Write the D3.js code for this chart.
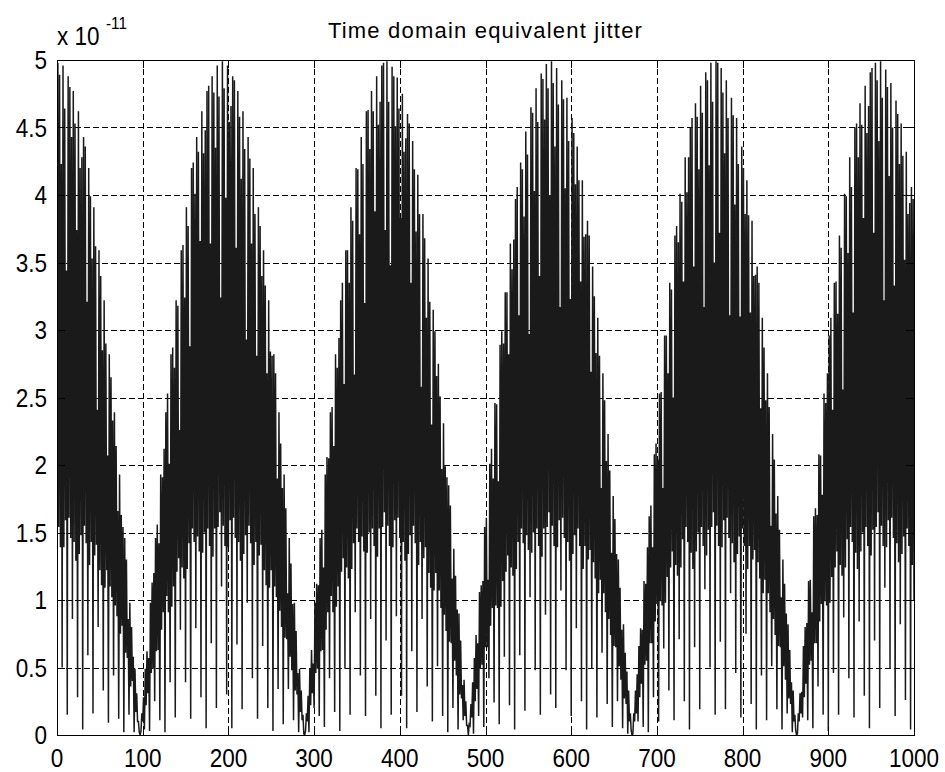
<!DOCTYPE html>
<html>
<head>
<meta charset="utf-8">
<script src="https://cdn.jsdelivr.net/npm/d3@7"></script>
<style>
html,body{margin:0;padding:0;background:#fff;}
svg{display:block;}
text{font-family:"Liberation Sans",Arial,Helvetica,sans-serif;fill:#000;}
</style>
</head>
<body>
<svg id="chart" width="945" height="772"></svg>
<script>
// ---------------- data ----------------
const title = "Time domain equivalent jitter";
const yExponent = "-11";
const xTicks = [0,100,200,300,400,500,600,700,800,900,1000];
const xTickLabels = ["0","100","200","300","400","500","600","700","800","900","1000"];
const yTicks = [0,0.5,1,1.5,2,2.5,3,3.5,4,4.5,5];
const yTickLabels = ["0","0.5","1","1.5","2","2.5","3","3.5","4","4.5","5"];
// jitter per sample n = 1..1000, in units of 1e-11 s
const jitter = [
4.98,1.54,4.89,1.39,4.23,0.50, 4.96,1.39,4.64,1.59,3.44,0.15,
4.88,1.61,4.80,1.46,4.43,0.86, 4.77,1.43,4.53,1.29,3.74,0.28,
4.62,1.34,4.20,1.48,4.28,0.04, 4.43,1.55,4.36,1.42,3.21,0.59,
4.20,1.26,3.99,1.43,3.53,0.16, 3.91,1.33,3.62,1.41,2.41,0.80,
3.59,1.22,3.40,1.11,2.85,0.33, 3.22,1.09,2.90,1.22,2.07,0.09,
2.82,1.10,2.65,1.02,2.33,0.44, 2.39,0.96,2.14,0.88,1.66,0.12,
1.93,0.75,1.63,0.81,1.54,0.02, 1.46,0.61,1.30,0.57,0.86,0.15,
0.98,0.36,0.80,0.40,0.58,0.02, 0.49,0.17,0.31,0.10,0.10,0.02,
0.00,0.03,0.16,0.10,0.28,0.04, 0.49,0.22,0.62,0.31,0.57,0.03,
0.98,0.46,1.13,0.49,1.20,0.25, 1.46,0.62,1.56,0.63,1.42,0.11,
1.93,0.78,1.91,0.91,2.12,0.02, 2.39,1.03,2.53,0.91,2.01,0.39,
2.82,0.95,2.87,1.10,2.72,0.13, 3.22,1.21,3.18,1.31,2.26,0.78,
3.59,1.24,3.63,1.16,3.24,0.39, 3.91,1.23,3.77,1.42,2.88,0.12,
4.20,1.53,4.24,1.43,4.01,0.79, 4.43,1.47,4.32,1.36,3.66,0.28,
4.62,1.35,4.31,1.50,4.48,0.05, 4.77,1.53,4.81,1.40,3.64,0.68,
4.88,1.32,4.76,1.53,4.35,0.20, 4.96,1.54,4.73,1.65,3.24,1.10,
4.99,1.55,4.79,1.40,3.98,0.30, 4.96,1.39,4.54,1.59,4.66,0.05,
4.88,1.61,4.85,1.46,3.61,0.67, 4.77,1.43,4.58,1.29,4.12,0.19,
4.62,1.34,4.34,1.48,2.93,0.98, 4.43,1.55,4.27,1.42,3.64,0.42,
4.20,1.26,3.86,1.43,2.81,0.12, 3.91,1.33,3.77,1.41,3.40,0.66,
3.59,1.22,3.33,1.11,2.68,0.20, 3.22,1.09,2.84,1.22,2.81,0.03,
2.82,1.10,2.68,1.02,1.90,0.34, 2.39,0.92,2.16,0.80,1.83,0.08,
1.93,0.72,1.68,0.71,1.05,0.34, 1.46,0.58,1.27,0.48,0.97,0.11,
0.98,0.33,0.77,0.30,0.46,0.02, 0.49,0.17,0.33,0.11,0.15,0.01,
0.00,0.03,0.16,0.10,0.29,0.02, 0.49,0.22,0.63,0.31,0.53,0.20,
0.98,0.46,1.12,0.49,1.11,0.14, 1.46,0.62,1.52,0.63,1.24,0.06,
1.93,0.78,2.06,0.91,2.05,0.42, 2.39,1.03,2.43,0.91,2.14,0.17,
2.82,0.95,2.72,1.10,2.94,0.03, 3.22,1.21,3.35,1.31,2.60,0.49,
3.59,1.24,3.59,1.16,3.35,0.15, 3.91,1.23,3.81,1.42,2.67,0.91,
4.20,1.53,4.19,1.43,3.71,0.44, 4.43,1.47,4.23,1.36,3.20,0.14,
4.62,1.35,4.63,1.50,4.34,0.86, 4.77,1.53,4.62,1.40,3.88,0.29,
4.88,1.32,4.52,1.53,4.69,0.05, 4.96,1.54,4.98,1.65,3.74,0.70,
4.99,1.55,4.69,1.40,3.48,0.15, 4.95,1.39,4.88,1.59,4.51,0.88,
4.87,1.61,4.64,1.46,3.83,0.29, 4.75,1.43,4.32,1.29,4.42,0.05,
4.60,1.34,4.53,1.48,3.35,0.62, 4.40,1.55,4.19,1.42,3.73,0.17,
4.15,1.26,3.86,1.43,2.58,0.86, 3.86,1.31,3.68,1.39,3.09,0.36,
3.53,1.20,3.21,1.09,2.30,0.10, 3.15,1.07,2.99,1.20,2.66,0.51,
2.75,1.07,2.51,0.94,1.97,0.14, 2.31,0.89,1.99,0.77,1.91,0.02,
1.85,0.69,1.70,0.68,1.16,0.20, 1.38,0.55,1.18,0.44,0.93,0.04,
0.90,0.30,0.70,0.27,0.37,0.11, 0.41,0.14,0.25,0.07,0.07,0.00,
0.08,0.07,0.23,0.13,0.39,0.01, 0.57,0.25,0.74,0.34,0.68,0.14,
1.06,0.49,1.11,0.52,1.14,0.06, 1.54,0.65,1.61,0.65,1.15,0.42,
2.01,0.81,2.12,0.94,1.90,0.24, 2.46,0.96,2.45,0.94,1.88,0.08,
2.89,0.95,2.99,1.14,2.90,0.58, 3.28,1.21,3.28,1.33,2.82,0.22,
3.64,1.24,3.45,1.18,3.67,0.04, 3.97,1.23,4.06,1.43,3.11,0.59,
4.24,1.53,4.19,1.42,3.84,0.18, 4.47,1.48,4.30,1.37,2.97,1.02,
4.65,1.35,4.61,1.50,4.03,0.48, 4.79,1.53,4.54,1.40,3.40,0.15,
4.90,1.32,4.86,1.53,4.56,0.89, 4.97,1.54,4.79,1.65,4.00,0.30,
4.99,1.55,4.83,1.40,4.36,0.20, 4.94,1.39,4.67,1.59,3.17,1.07,
4.85,1.61,4.71,1.46,4.05,0.48, 4.72,1.43,4.40,1.29,3.23,0.14,
4.57,1.34,4.46,1.48,4.08,0.79, 4.36,1.53,4.11,1.40,3.36,0.25,
4.11,1.23,3.69,1.40,3.71,0.04, 3.81,1.30,3.70,1.37,2.69,0.49,
3.47,1.28,3.25,1.16,2.83,0.13, 3.09,1.05,2.81,1.15,1.83,0.61,
2.68,1.05,2.48,0.91,2.03,0.23, 2.23,0.86,1.96,0.74,1.35,0.06,
1.77,0.66,1.60,0.65,1.34,0.25, 1.30,0.51,1.09,0.41,0.78,0.05,
0.82,0.27,0.61,0.23,0.47,0.01, 0.33,0.10,0.16,0.03,0.00,0.01,
0.16,0.10,0.33,0.16,0.45,0.10, 0.66,0.28,0.79,0.38,0.78,0.06,
1.14,0.52,1.12,0.55,1.39,0.02, 1.62,0.68,1.70,0.68,1.39,0.28,
2.08,0.84,2.16,0.97,2.04,0.10, 2.53,0.99,2.54,0.96,1.83,0.64,
2.96,0.98,2.96,1.17,2.68,0.33, 3.35,1.24,3.30,1.36,2.50,0.11,
3.70,1.26,3.77,1.18,3.65,0.71, 4.01,1.24,3.95,1.45,3.36,0.25,
4.28,1.54,4.02,1.43,4.28,0.04, 4.50,1.35,4.57,1.23,3.47,0.65,
4.68,1.36,4.58,1.50,4.19,0.19, 4.81,1.54,4.61,1.40,3.17,1.08,
4.91,1.33,4.85,1.52,4.22,0.50, 4.98,1.54,4.69,1.65,3.50,0.15,
4.99,1.55,4.98,1.40,3.72,0.69, 4.94,1.39,4.76,1.59,4.31,0.19,
4.85,1.61,4.57,1.46,3.11,1.05, 4.72,1.42,4.59,1.28,3.93,0.46,
4.57,1.34,4.23,1.47,3.10,0.13, 4.36,1.53,4.20,1.40,3.86,0.75,
4.11,1.23,3.85,1.40,3.13,0.23, 3.81,1.30,3.40,1.37,3.41,0.04,
3.47,1.28,3.35,1.16,2.42,0.44, 3.09,1.05,2.87,1.15,2.48,0.11,
2.68,1.05,2.43,0.91,1.55,0.51, 2.23,0.86,2.04,0.74,1.64,0.19,
1.77,0.66,1.52,0.65,1.02,0.04, 1.30,0.51,1.12,0.41,0.90,0.16,
0.82,0.27,0.63,0.23,0.39,0.02, 0.33,0.10,0.15,0.03,0.00,0.01,
0.16,0.10,0.31,0.16,0.32,0.13, 0.66,0.28,0.80,0.38,0.83,0.11,
1.14,0.52,1.15,0.55,0.91,0.05, 1.62,0.68,1.68,0.68,1.63,0.36,
2.08,0.84,2.07,0.97,1.78,0.15, 2.53,0.99,2.46,0.96,2.68,0.03,
2.96,0.98,3.09,1.17,2.41,0.46, 3.35,1.24,3.36,1.36,3.12,0.15,
3.70,1.26,3.61,1.18,2.56,0.87, 4.01,1.24,3.99,1.45,3.57,0.42,
4.28,1.54,4.06,1.43,3.13,0.13, 4.50,1.35,4.53,1.23,4.28,0.84,
4.68,1.36,4.52,1.50,3.83,0.29, 4.81,1.54,4.46,1.40,4.66,0.05,
4.91,1.33,4.94,1.52,3.72,0.70, 4.98,1.54,4.85,1.65,4.40,0.20,
4.99,1.55,4.72,1.40,3.22,1.09, 4.93,1.39,4.80,1.59,4.14,0.49,
4.83,1.61,4.50,1.46,3.33,0.14, 4.70,1.42,4.60,1.28,4.23,0.82,
4.53,1.34,4.29,1.47,3.52,0.26, 4.32,1.53,3.86,1.40,3.94,0.04,
4.06,1.26,3.97,1.00
];

// ---------------- layout ----------------
const plot = {left: 57, right: 914, top: 60, bottom: 735};
const svg = d3.select("#chart");
svg.append("rect").attr("width", 945).attr("height", 772).attr("fill", "#fff");

const x = d3.scaleLinear().domain([0, 1000]).range([plot.left, plot.right]);
const y = d3.scaleLinear().domain([0, 5]).range([plot.bottom, plot.top]);

// grid
const grid = svg.append("g").attr("stroke", "#000").attr("stroke-width", 1)
  .attr("stroke-dasharray", "6,3").attr("shape-rendering", "crispEdges");
grid.selectAll("line.gx").data(xTicks.slice(1, -1)).join("line").attr("class", "gx")
  .attr("x1", d => Math.round(x(d)) + 0.5).attr("x2", d => Math.round(x(d)) + 0.5)
  .attr("y1", plot.top).attr("y2", plot.bottom);
grid.selectAll("line.gy").data(yTicks.slice(1, -1)).join("line").attr("class", "gy")
  .attr("y1", d => Math.round(y(d)) + 0.5).attr("y2", d => Math.round(y(d)) + 0.5)
  .attr("x1", plot.left).attr("x2", plot.right);

// data line
svg.append("clipPath").attr("id", "clip").append("rect")
  .attr("x", plot.left).attr("y", plot.top - 1)
  .attr("width", plot.right - plot.left).attr("height", plot.bottom - plot.top + 2);
const line = d3.line().x((d, i) => x(i + 1)).y(d => y(d));
svg.append("path").datum(jitter).attr("clip-path", "url(#clip)")
  .attr("d", line).attr("fill", "none").attr("stroke", "#1a1a1a").attr("stroke-width", 1.5);

// axes (box with inward ticks on all sides)
const axes = svg.append("g").attr("shape-rendering", "crispEdges");
axes.append("rect").attr("x", plot.left + 0.5).attr("y", plot.top + 0.5)
  .attr("width", plot.right - plot.left).attr("height", plot.bottom - plot.top)
  .attr("fill", "none").attr("stroke", "#000").attr("stroke-width", 1);
const tl = 8;
xTicks.forEach(t => {
  const px = Math.round(x(t)) + 0.5;
  axes.append("line").attr("x1", px).attr("x2", px).attr("y1", plot.bottom).attr("y2", plot.bottom - tl).attr("stroke", "#000");
  axes.append("line").attr("x1", px).attr("x2", px).attr("y1", plot.top).attr("y2", plot.top + tl).attr("stroke", "#000");
});
yTicks.forEach(t => {
  const py = Math.round(y(t)) + 0.5;
  axes.append("line").attr("y1", py).attr("y2", py).attr("x1", plot.left).attr("x2", plot.left + tl).attr("stroke", "#000");
  axes.append("line").attr("y1", py).attr("y2", py).attr("x1", plot.right).attr("x2", plot.right - tl).attr("stroke", "#000");
});

// tick labels (narrow bitmap-like face)
const fs = 25, sx = 0.9;
svg.append("g").selectAll("text").data(xTicks).join("text")
  .attr("transform", d => `translate(${x(d)},767) scale(${sx},1)`)
  .attr("text-anchor", "middle").attr("font-size", fs)
  .text((d, i) => xTickLabels[i]);
svg.append("g").selectAll("text").data(yTicks).join("text")
  .attr("transform", d => `translate(47,${y(d) + 9}) scale(${sx},1)`)
  .attr("text-anchor", "end").attr("font-size", fs)
  .text((d, i) => yTickLabels[i]);

// exponent label
svg.append("text").attr("transform", "translate(57,45) scale(0.9,1)")
  .attr("font-size", fs).text("x 10");
svg.append("text").attr("transform", "translate(106,29) scale(0.9,1)")
  .attr("font-size", 17).text(yExponent);

// title
svg.append("text").attr("x", (plot.left + plot.right) / 2).attr("y", 38)
  .attr("text-anchor", "middle").attr("font-size", 22).attr("letter-spacing", 1.2)
  .text(title);
</script>
</body>
</html>
